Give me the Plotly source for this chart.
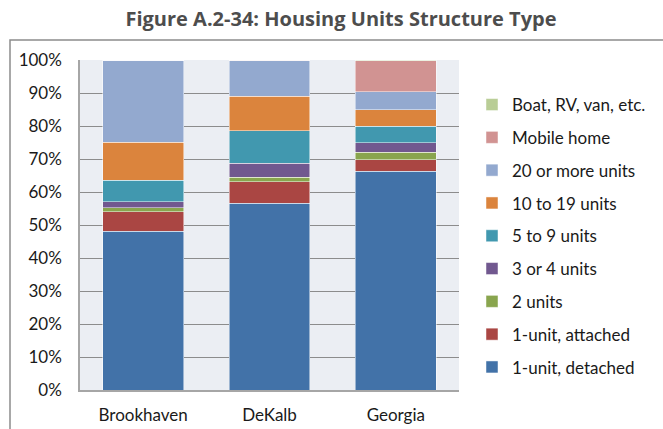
import plotly.graph_objects as go

# Share of housing units by structure type (percent)
places = ["Brookhaven", "DeKalb", "Georgia"]

structure_types = [
    "1-unit, detached",
    "1-unit, attached",
    "2 units",
    "3 or 4 units",
    "5 to 9 units",
    "10 to 19 units",
    "20 or more units",
    "Mobile home",
    "Boat, RV, van, etc.",
]

detached_1 = [48.1, 56.6, 66.3]
attached_1 = [5.9, 6.5, 3.4]
units_2 = [1.2, 1.4, 2.4]
units_3_4 = [1.8, 4.2, 2.9]
units_5_9 = [6.5, 9.8, 4.9]
units_10_19 = [11.6, 10.5, 5.1]
units_20_plus = [24.9, 10.7, 5.4]
mobile_home = [0.0, 0.3, 9.4]
boat_rv_van = [0.0, 0.0, 0.2]

series_values = [
    detached_1, attached_1, units_2, units_3_4, units_5_9,
    units_10_19, units_20_plus, mobile_home, boat_rv_van,
]

colors = [
    "#4272A8", "#AA4643", "#89A54E", "#71588F", "#4198AF",
    "#DB843D", "#93A9CF", "#D19392", "#B9CD96",
]

font_family = "Lato, 'Noto Sans', sans-serif"

fig = go.Figure()
n = len(structure_types)
for i, (name, vals, col) in enumerate(zip(structure_types, series_values, colors)):
    fig.add_trace(go.Bar(
        x=places,
        y=[v / 100 for v in vals],
        name=name,
        marker=dict(color=col, line=dict(color="rgba(255,255,255,0.6)", width=0.8)),
        legendgroup=name,
        legendrank=n - i,
        hovertemplate="%{x}: %{y:.1%}<extra>" + name + "</extra>",
    ))

# plot-area geometry in pixels
W, H = 663, 429
ml, mr, mt, mb = 80, 204, 60, 39
pw = W - ml - mr
ph = H - mt - mb

fig.update_layout(
    width=W,
    height=H,
    barmode="stack",
    bargap=0.36,
    margin=dict(l=ml, r=mr, t=mt, b=mb, autoexpand=False),
    paper_bgcolor="white",
    plot_bgcolor="#EBEEF3",
    font=dict(family=font_family, size=17, color="#1a1a1a"),
    title=dict(
        text="<b>Figure A.2-34: Housing Units Structure Type</b>",
        x=341 / W,
        xref="container",
        xanchor="center",
        y=1 - 19 / H,
        yanchor="middle",
        font=dict(family="'Open Sans', 'Noto Sans', sans-serif", size=20, color="#4D4D4D"),
    ),
    legend=dict(
        x=(472 - ml) / pw,
        xanchor="left",
        y=(H - mb - 87) / ph,
        yanchor="top",
        tracegroupgap=7.7,
        font=dict(size=17, family=font_family, color="#1a1a1a"),
        bgcolor="rgba(0,0,0,0)",
        itemclick=False,
    ),
    xaxis=dict(
        showgrid=False,
        showline=True,
        linecolor="#A6A6A6",
        linewidth=1.5,
        ticks="",
        ticklabelstandoff=9,
        tickfont=dict(size=17),
        fixedrange=True,
    ),
    yaxis=dict(
        range=[0, 1],
        tickformat=".0%",
        dtick=0.1,
        showgrid=True,
        gridcolor="#8C8C8C",
        gridwidth=1.2,
        showline=True,
        linecolor="#A6A6A6",
        linewidth=1.5,
        ticks="",
        ticklabelstandoff=13,
        tickfont=dict(size=17),
        zeroline=False,
        fixedrange=True,
    ),
    shapes=[
        # outer chart frame
        dict(
            type="rect",
            xref="paper", yref="paper",
            x0=(10 - ml) / pw, x1=(W + 20 - ml) / pw,
            y0=-(mb + 20) / ph, y1=1 + (mt - 40) / ph,
            line=dict(color="#8C8C8C", width=1.5),
            fillcolor="rgba(0,0,0,0)",
            layer="below",
        ),
    ],
)

fig.write_html("out.html")
